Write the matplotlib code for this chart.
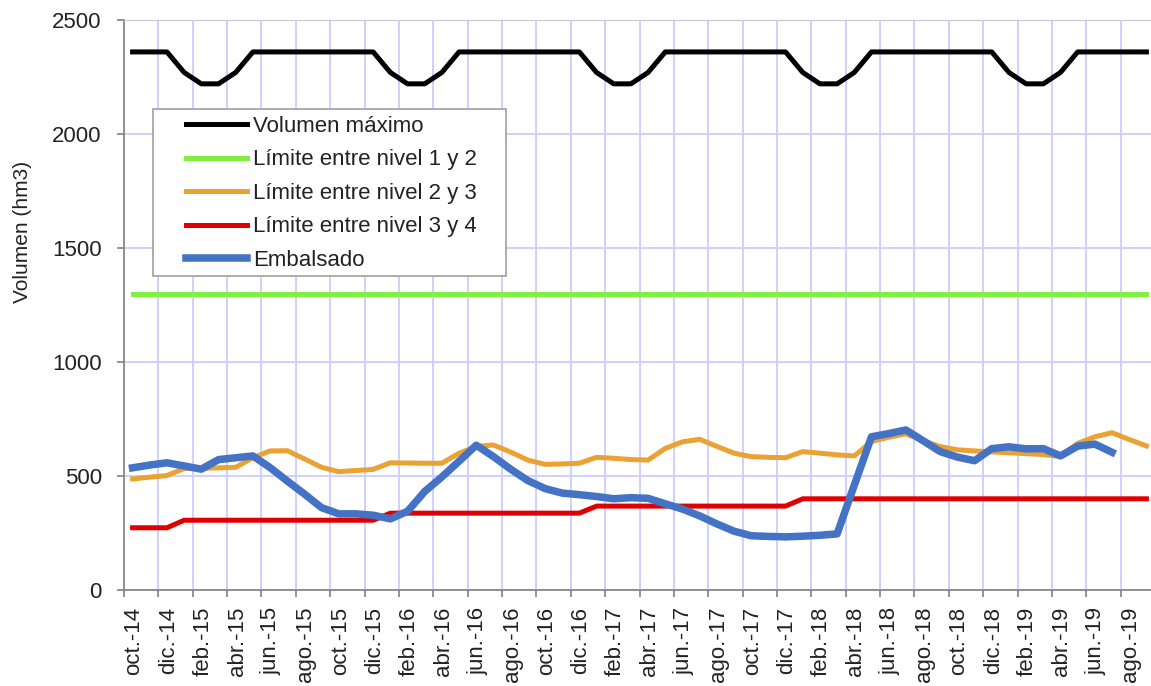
import numpy as np
import matplotlib.pyplot as plt
import matplotlib.transforms as mtransforms
from matplotlib.patches import Rectangle

plt.rcParams['font.family'] = ['Liberation Sans', 'DejaVu Sans']

# monthly values, oct-2014 .. sep-2019 (hm3)
vol_max = [2360, 2360, 2360, 2270, 2220, 2220, 2270, 2360, 2360, 2360, 2360, 2360,
           2360, 2360, 2360, 2270, 2220, 2220, 2270, 2360, 2360, 2360, 2360, 2360,
           2360, 2360, 2360, 2270, 2220, 2220, 2270, 2360, 2360, 2360, 2360, 2360,
           2360, 2360, 2360, 2270, 2220, 2220, 2270, 2360, 2360, 2360, 2360, 2360,
           2360, 2360, 2360, 2270, 2220, 2220, 2270, 2360, 2360, 2360, 2360, 2360]

nivel_1_2 = [1300] * 60

nivel_2_3 = [487, 495, 502, 533, 533, 536, 538, 580, 610, 611, 575, 538,
             519, 524, 529, 558, 557, 556, 556, 600, 630, 636, 605, 570,
             551, 553, 556, 582, 578, 572, 570, 621, 650, 661, 630, 600,
             585, 582, 580, 607, 600, 593, 588, 651, 670, 685, 655, 629,
             615, 610, 606, 602, 598, 594, 585, 643, 672, 690, 660, 632]

nivel_3_4 = [273, 273, 273, 306, 306, 306, 306, 306, 306, 306, 306, 306,
             306, 306, 306, 337, 337, 337, 337, 337, 337, 337, 337, 337,
             337, 337, 337, 368, 368, 368, 368, 368, 368, 368, 368, 368,
             368, 368, 368, 400, 400, 400, 400, 400, 400, 400, 400, 400,
             400, 400, 400, 400, 400, 400, 400, 400, 400, 400, 400, 400]

embalsado = [536, 548, 558, 544, 530, 572, 580, 588, 537, 478, 421, 361,
             334, 334, 328, 312, 345, 432, 496, 565, 635, 585, 530, 480,
             445, 425, 418, 410, 400, 405, 402, 378, 355, 325, 290, 258,
             238, 235, 233, 236, 240, 246, 460, 672, 686, 702, 655, 607,
             583, 567, 620, 628, 619, 620, 588, 631, 640, 604]

etiquetas = ['oct.-14', 'dic.-14', 'feb.-15', 'abr.-15', 'jun.-15', 'ago.-15',
             'oct.-15', 'dic.-15', 'feb.-16', 'abr.-16', 'jun.-16', 'ago.-16',
             'oct.-16', 'dic.-16', 'feb.-17', 'abr.-17', 'jun.-17', 'ago.-17',
             'oct.-17', 'dic.-17', 'feb.-18', 'abr.-18', 'jun.-18', 'ago.-18',
             'oct.-18', 'dic.-18', 'feb.-19', 'abr.-19', 'jun.-19', 'ago.-19']

fig = plt.figure(figsize=(11.51, 6.86), dpi=100)
ax = fig.add_axes([124 / 1151, 96 / 686, 1031 / 1151, 570 / 686])

x = np.arange(len(vol_max)) + 0.5
ax.plot(x, vol_max, color='black', lw=3.6, label='Volumen máximo')
ax.plot(x, nivel_1_2, color='#80f040', lw=3.6, label='Límite entre nivel 1 y 2')
ax.plot(x, nivel_2_3, color='#eba232', lw=3.6, label='Límite entre nivel 2 y 3')
ax.plot(x, nivel_3_4, color='#e00000', lw=3.6, label='Límite entre nivel 3 y 4')
ax.plot(x[:len(embalsado)], embalsado, color='#4472c4', lw=5.4, label='Embalsado')

ax.set_xlim(0, 60)
ax.set_ylim(0, 2500)
ax.set_yticks(range(0, 2501, 500))
ax.set_xticks(np.arange(0, 60, 2))
ax.set_xticklabels(etiquetas, rotation=90)
ax.grid(True, color='#d0d0ff', lw=1.4)
ax.set_axisbelow(True)

for s in ['left', 'bottom']:
    ax.spines[s].set_color('#808080')
    ax.spines[s].set_linewidth(1.2)
ax.spines['top'].set_color('#c8c8d8')
ax.spines['right'].set_visible(False)
ax.tick_params(axis='both', colors='#808080', labelcolor='#222222', labelsize=16,
               length=5, width=1.2)
ax.tick_params(axis='y', pad=11)
ax.tick_params(axis='x', pad=7)

shift = mtransforms.ScaledTranslation(0.10, 0, fig.dpi_scale_trans)
for lab in ax.get_xticklabels():
    lab.set_transform(lab.get_transform() + shift)

ax.set_ylabel('Volumen (hm3)', fontsize=15, color='#222222')
ax.yaxis.set_label_coords(-0.089, 0.628)

# legend box
ax.add_patch(Rectangle((29 / 1031, (590 - 276) / 570), 353 / 1031, 167 / 570,
                       transform=ax.transAxes, facecolor='white',
                       edgecolor='#a0a0a0', lw=1.2, zorder=3))
leg = ax.legend(loc='upper left', bbox_to_anchor=(62 / 1031, (590 - 116) / 570),
                frameon=False, fontsize=16, handlelength=2.75, handletextpad=0.25,
                labelspacing=0.56, borderpad=0, borderaxespad=0)
leg.set_zorder(4)
for t in leg.get_texts():
    t.set_color('#222222')

fig.savefig('out.png', dpi=100)
